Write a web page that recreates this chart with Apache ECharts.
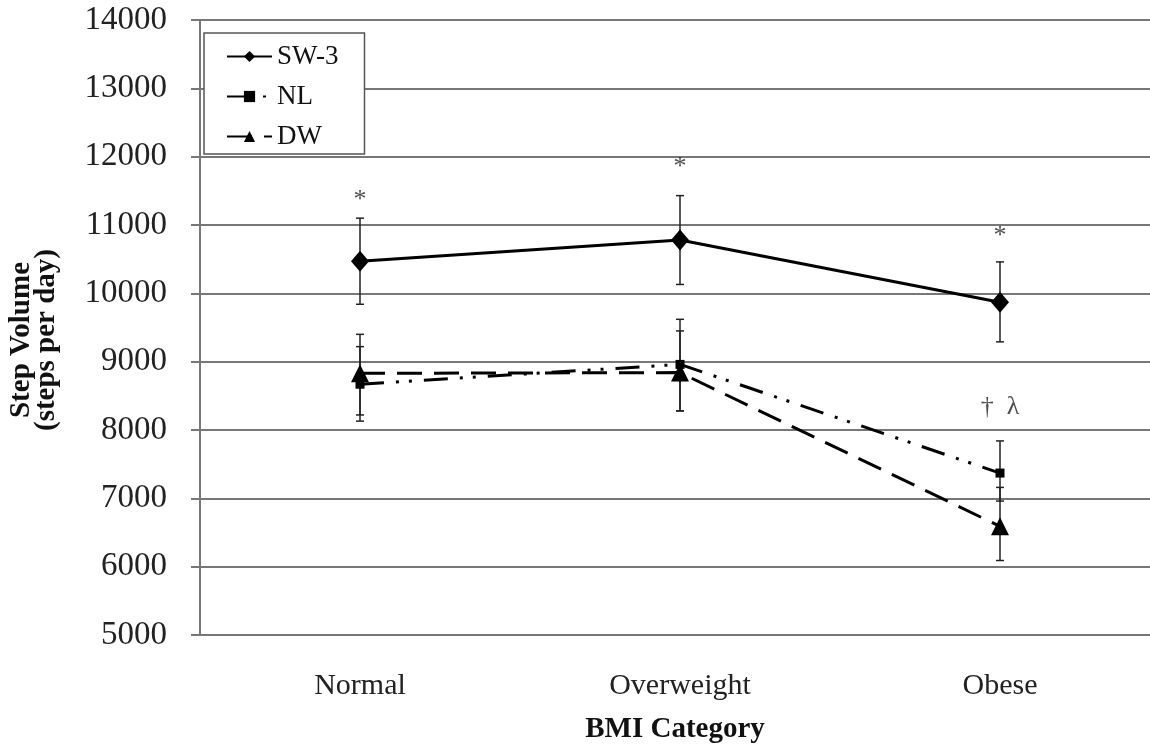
<!DOCTYPE html>
<html>
<head>
<meta charset="utf-8">
<script src="https://cdn.jsdelivr.net/npm/echarts@6/dist/echarts.min.js"></script>
<style>
html,body{margin:0;padding:0;background:#fff;}
#chart{width:1150px;height:747px;}
</style>
</head>
<body>
<div id="chart"></div>
<script>
// ---- data ----
const categories = ['Normal', 'Overweight', 'Obese'];
const sw3Mean = [10470, 10780, 9870];
const sw3Low  = [9840, 10130, 9290];
const sw3High = [11100, 11430, 10460];
const nlMean  = [8670, 8960, 7370];
const nlLow   = [8220, 8280, 6960];
const nlHigh  = [9220, 9620, 7840];
const dwMean  = [8830, 8840, 6590];
const dwLow   = [8130, 8280, 6090];
const dwHigh  = [9400, 9450, 7160];
const annotText = ['*', '*', '*', '\u2020  \u03bb'];
const annotCat  = [0, 1, 2, 2];
const annotY    = [11370, 11840, 10830, 8330];
const yTicks = { min: 5000, max: 14000, interval: 1000 };

const serif = '"Liberation Serif", "Times New Roman", serif';

// category index positions on a value x-axis (band = 1 unit, plot cut at right edge)
const catIdx = categories.map((c, i) => i);
function pts(arr) { return arr.map((v, i) => [catIdx[i], v]); }

function errSeries(name, low, high) {
  return {
    type: 'custom',
    name: name + '-err',
    z: 5,
    silent: true,
    data: categories.map((c, i) => [catIdx[i], low[i], high[i]]),
    renderItem: function (params, api) {
      const x = api.value(0);
      const lo = api.coord([x, api.value(1)]);
      const hi = api.coord([x, api.value(2)]);
      const hw = 4;
      const style = { stroke: '#222', lineWidth: 1.5 };
      return {
        type: 'group',
        children: [
          { type: 'line', shape: { x1: lo[0], y1: lo[1], x2: hi[0], y2: hi[1] }, style: style },
          { type: 'line', shape: { x1: lo[0] - hw, y1: lo[1], x2: lo[0] + hw, y2: lo[1] }, style: style },
          { type: 'line', shape: { x1: hi[0] - hw, y1: hi[1], x2: hi[0] + hw, y2: hi[1] }, style: style }
        ]
      };
    }
  };
}

const chart = echarts.init(document.getElementById('chart'), null, { renderer: 'canvas' });
chart.setOption({
  animation: false,
  backgroundColor: '#fff',
  grid: { left: 200, right: 0, top: 20, bottom: 112, containLabel: false, outerBoundsMode: 'none' },
  legend: {
    orient: 'vertical',
    left: 204,
    top: 33,
    data: ['SW-3', 'NL', 'DW'],
    backgroundColor: '#fff',
    borderColor: '#555',
    borderWidth: 1.5,
    padding: [10, 26, 4, 22],
    itemGap: 13,
    itemWidth: 45,
    itemHeight: 14,
    textStyle: { fontFamily: serif, fontSize: 27, color: '#111' }
  },
  xAxis: {
    type: 'value',
    min: -0.5,
    max: 2.46875,
    axisLine: { show: true, onZero: false, lineStyle: { color: '#777', width: 2 } },
    axisTick: { show: false },
    splitLine: { show: false },
    axisLabel: {
      fontFamily: serif, fontSize: 30, color: '#222', margin: 36,
      customValues: catIdx,
      formatter: function (v) { return categories[Math.round(v)] || ''; }
    },
    name: 'BMI Category',
    nameLocation: 'middle',
    nameGap: 80,
    nameTextStyle: { fontFamily: serif, fontSize: 29, fontWeight: 'bold', color: '#111' }
  },
  yAxis: {
    type: 'value',
    min: yTicks.min,
    max: yTicks.max,
    interval: yTicks.interval,
    axisLine: { show: true, onZero: false, lineStyle: { color: '#777', width: 2 } },
    axisTick: { show: true, inside: false, length: 9, lineStyle: { color: '#777', width: 2 } },
    splitLine: { lineStyle: { color: '#777', width: 2 } },
    axisLabel: { fontFamily: serif, fontSize: 33, color: '#222', margin: 33, formatter: function (v) { return String(v); } }
  },
  graphic: [{
    type: 'text',
    x: 34,
    y: 340,
    rotation: Math.PI / 2,
    style: {
      text: 'Step Volume\n(steps per day)',
      font: 'bold 29px ' + serif,
      fill: '#111',
      align: 'center',
      verticalAlign: 'middle',
      lineHeight: 25
    }
  }],
  series: [
    errSeries('SW-3', sw3Low, sw3High),
    errSeries('NL', nlLow, nlHigh),
    errSeries('DW', dwLow, dwHigh),
    {
      name: 'SW-3', type: 'line', data: pts(sw3Mean), z: 6,
      symbol: 'diamond', symbolSize: [18, 21],
      itemStyle: { color: '#000' },
      lineStyle: { color: '#000', width: 3, type: 'solid' }
    },
    {
      name: 'NL', type: 'line', data: pts(nlMean), z: 6,
      symbol: 'rect', symbolSize: 9,
      itemStyle: { color: '#000' },
      lineStyle: { color: '#000', width: 3, type: [24, 12, 3, 10, 3, 12] }
    },
    {
      name: 'DW', type: 'line', data: pts(dwMean), z: 6,
      symbol: 'triangle', symbolSize: 18,
      itemStyle: { color: '#000' },
      lineStyle: { color: '#000', width: 3, type: [25, 12] }
    },
    {
      name: 'annot', type: 'scatter', symbolSize: 0, silent: true,
      data: annotText.map((t, i) => ({ value: [catIdx[annotCat[i]], annotY[i]], label: { formatter: t } })),
      label: { show: true, position: 'inside', fontFamily: serif, fontSize: 26, color: '#222' }
    }
  ]
});
</script>
</body>
</html>
